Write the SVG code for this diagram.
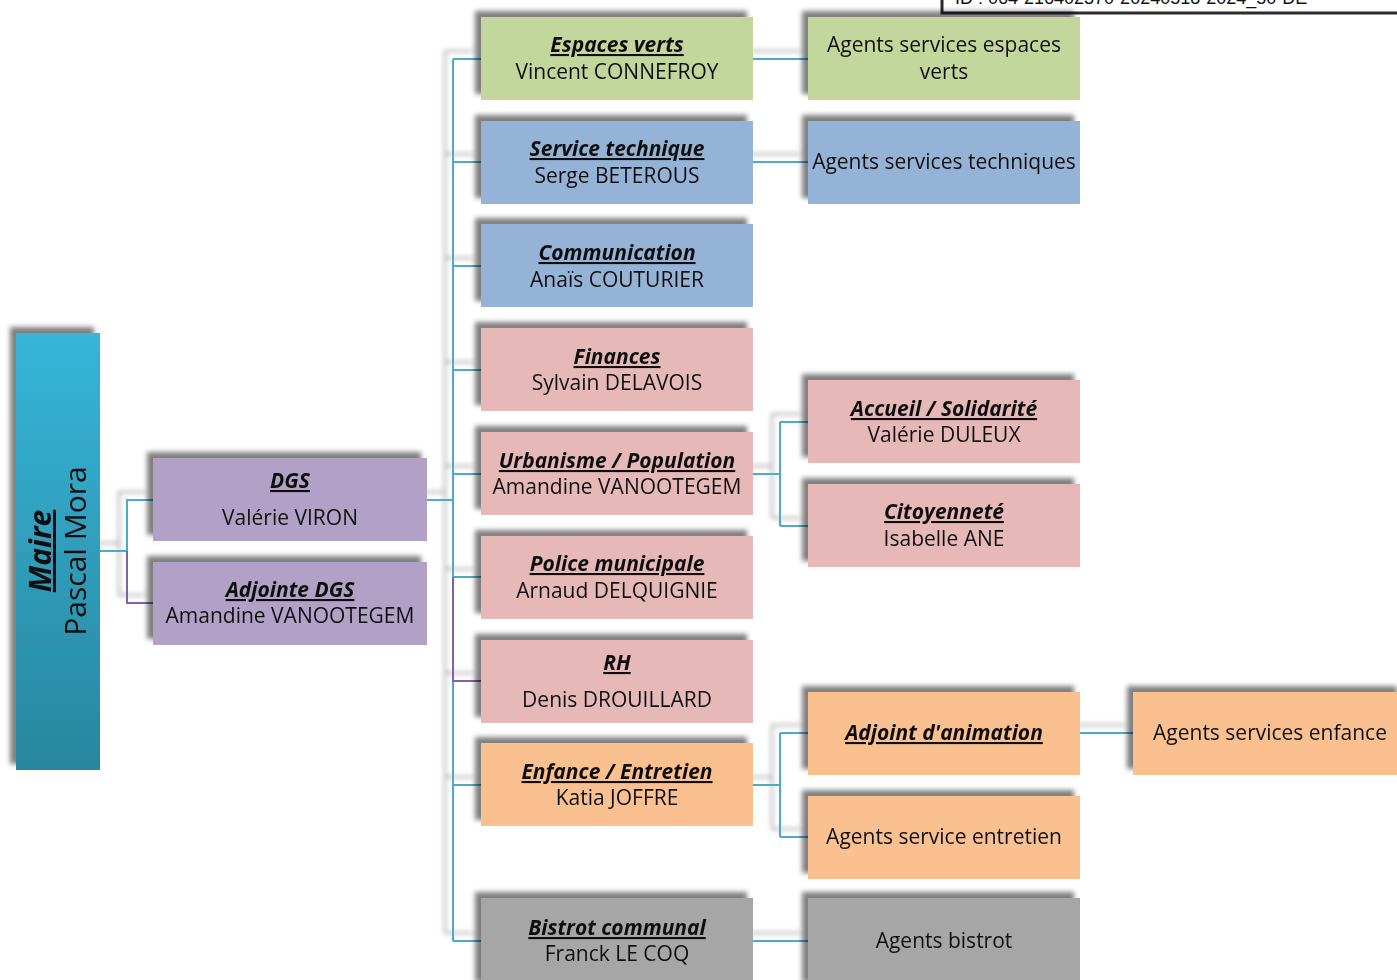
<svg xmlns="http://www.w3.org/2000/svg" width="1397" height="980" viewBox="0 0 1397 980">
<style>
text{font-family:"Open Sans",Lato,"Liberation Sans",sans-serif;font-size:21px;fill:#111;text-anchor:middle}
.h{font-weight:bold;font-style:italic;text-decoration:underline}
.teal{stroke:#4bacc6;stroke-width:2;fill:none}
.purp{stroke:#8064a2;stroke-width:2;fill:none}
.g{fill:#c3d69b}.b{fill:#95b3d7}.p{fill:#e6b9b8}.v{fill:#b2a1c7}.o{fill:#fac090}.y{fill:#a6a6a6}
.box{filter:url(#sh)}
</style>
<defs>
<filter id="sh" x="-20%" y="-30%" width="140%" height="160%">
<feDropShadow dx="-6" dy="-6" stdDeviation="2.5" flood-color="#000" flood-opacity="0.5"/>
</filter>
<filter id="lsh" x="-50%" y="-10%" width="200%" height="120%">
<feDropShadow dx="-8" dy="-8" stdDeviation="2.5" flood-color="#000" flood-opacity="0.35"/>
</filter>
<linearGradient id="mg" x1="0" y1="0" x2="0" y2="1">
<stop offset="0" stop-color="#37b5d9"/>
<stop offset="1" stop-color="#28869e"/>
</linearGradient>
</defs>
<rect width="1397" height="980" fill="#fff"/>

<g id="stamp">
<rect x="942" y="-20" width="470" height="33" fill="#fff" stroke="#2b2b2b" stroke-width="3"/>
<text x="955" y="4" style="font-family:'Liberation Sans',Arial,sans-serif;font-size:18px;text-anchor:start">ID : 064-216402370-20240518-2024_50-DE</text>
</g>

<g id="connectors">
<g filter="url(#lsh)">
<path class="teal" d="M100 551H127V500H153"/>
<path class="purp" d="M127 551V603H153"/>
<path class="teal" d="M427 500H453M453 59V941M453 59H481M453 162H481M453 266H481M453 370H481M453 474H481M453 577H481M453 785H481M453 941H481"/>
<path class="purp" d="M453 577V681H481"/>
<path class="teal" d="M753 59H808M753 162H808M753 474H780M780 422V526M780 422H808M780 526H808M753 785H780M780 733V837M780 733H808M780 837H808M753 941H808M1080 733H1133"/>
</g>
</g>

<g id="maire" class="box">
<rect x="16" y="333" width="84" height="437" fill="url(#mg)"/>
<text transform="translate(51 551) rotate(-90)" class="h" style="font-size:30px">Maire</text>
<text transform="translate(86 551) rotate(-90)" style="font-size:30px">Pascal Mora</text>
</g>

<g id="dgs" class="box"><rect class="v" x="153" y="458" width="274" height="83"/>
<text x="290" y="488" class="h">DGS</text><text x="290" y="525">Valérie VIRON</text></g>
<g id="adjointe-dgs" class="box"><rect class="v" x="153" y="562" width="274" height="83"/>
<text x="290" y="597" class="h">Adjointe DGS</text><text x="290" y="623">Amandine VANOOTEGEM</text></g>

<g id="espaces-verts" class="box"><rect class="g" x="481" y="17" width="272" height="83"/>
<text x="617" y="52" class="h">Espaces verts</text><text x="617" y="79">Vincent CONNEFROY</text></g>
<g id="service-technique" class="box"><rect class="b" x="481" y="121" width="272" height="83"/>
<text x="617" y="156" class="h">Service technique</text><text x="617" y="183">Serge BETEROUS</text></g>
<g id="communication" class="box"><rect class="b" x="481" y="224" width="272" height="83"/>
<text x="617" y="260" class="h">Communication</text><text x="617" y="287">Anaïs COUTURIER</text></g>
<g id="finances" class="box"><rect class="p" x="481" y="328" width="272" height="83"/>
<text x="617" y="364" class="h">Finances</text><text x="617" y="390">Sylvain DELAVOIS</text></g>
<g id="urbanisme" class="box"><rect class="p" x="481" y="432" width="272" height="83"/>
<text x="617" y="468" class="h">Urbanisme / Population</text><text x="617" y="494">Amandine VANOOTEGEM</text></g>
<g id="police" class="box"><rect class="p" x="481" y="536" width="272" height="83"/>
<text x="617" y="571" class="h">Police municipale</text><text x="617" y="598">Arnaud DELQUIGNIE</text></g>
<g id="rh" class="box"><rect class="p" x="481" y="640" width="272" height="83"/>
<text x="617" y="670" class="h">RH</text><text x="617" y="707">Denis DROUILLARD</text></g>
<g id="enfance" class="box"><rect class="o" x="481" y="743" width="272" height="83"/>
<text x="617" y="779" class="h">Enfance / Entretien</text><text x="617" y="805">Katia JOFFRE</text></g>
<g id="bistrot" class="box"><rect class="y" x="481" y="898" width="272" height="90"/>
<text x="617" y="935" class="h">Bistrot communal</text><text x="617" y="961">Franck LE COQ</text></g>

<g id="agents-espaces-verts" class="box"><rect class="g" x="808" y="17" width="272" height="83"/>
<text x="944" y="52">Agents services espaces</text><text x="944" y="79">verts</text></g>
<g id="agents-techniques" class="box"><rect class="b" x="808" y="121" width="272" height="83"/>
<text x="944" y="169">Agents services techniques</text></g>
<g id="accueil" class="box"><rect class="p" x="808" y="380" width="272" height="83"/>
<text x="944" y="416" class="h">Accueil / Solidarité</text><text x="944" y="442">Valérie DULEUX</text></g>
<g id="citoyennete" class="box"><rect class="p" x="808" y="484" width="272" height="83"/>
<text x="944" y="519" class="h">Citoyenneté</text><text x="944" y="546">Isabelle ANE</text></g>
<g id="adjoint-animation" class="box"><rect class="o" x="808" y="692" width="272" height="83"/>
<text x="944" y="740" class="h">Adjoint d'animation</text></g>
<g id="agents-entretien" class="box"><rect class="o" x="808" y="796" width="272" height="83"/>
<text x="944" y="844">Agents service entretien</text></g>
<g id="agents-bistrot" class="box"><rect class="y" x="808" y="898" width="272" height="90"/>
<text x="944" y="948">Agents bistrot</text></g>
<g id="agents-enfance" class="box"><rect class="o" x="1133" y="692" width="270" height="83"/>
<text x="1270" y="740">Agents services enfance</text></g>
</svg>
